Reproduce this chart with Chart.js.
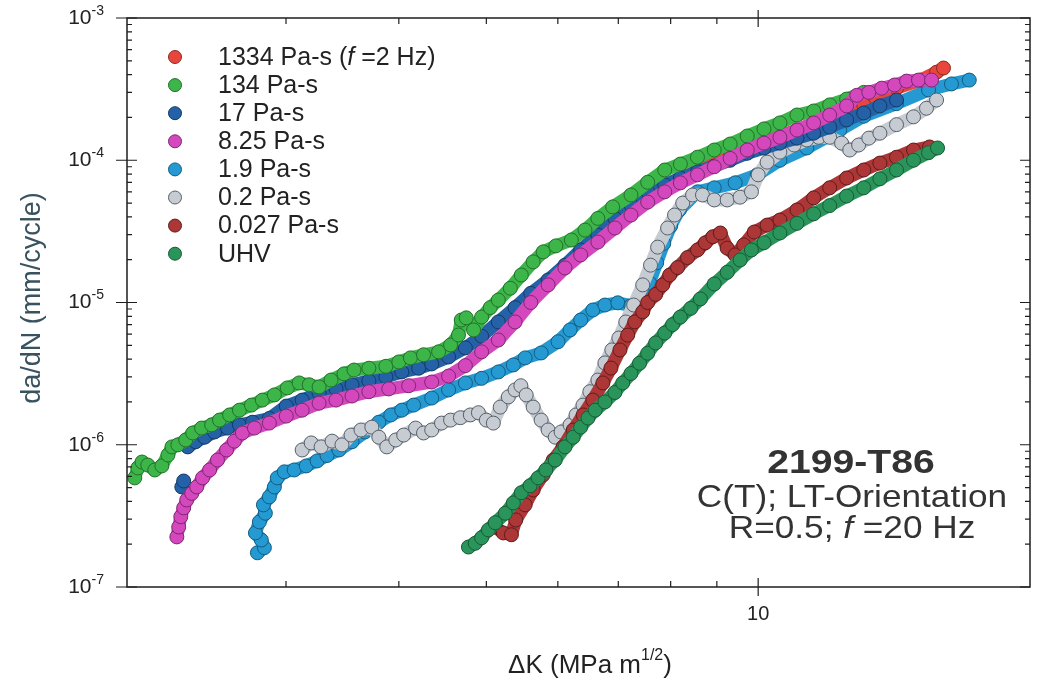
<!DOCTYPE html>
<html>
<head>
<meta charset="utf-8">
<script src="https://cdn.jsdelivr.net/npm/chart.js@4.4.1/dist/chart.umd.min.js"></script>
<style>
  body { margin: 0; background: #fff; }
  #chart { display: block; }
</style>
</head>
<body>
<canvas id="chart" width="1038" height="687"></canvas>
<script>
// ---- data (ΔK in MPa m^1/2, da/dN in mm/cycle) ----
const labels = ['1334 Pa-s (f =2 Hz)', '134 Pa-s', '17 Pa-s', '8.25 Pa-s', '1.9 Pa-s', '0.2 Pa-s', '0.027 Pa-s', 'UHV'];

const k1334 = [5.6, 5.853, 6.11, 6.645, 7.23, 7.88, 8.566, 9.31, 10.15, 11.04, 12.0, 13.09, 14.23, 15.13, 15.76, 16.04];
const r1334 = [1.04e-5, 1.37e-5, 1.77e-5, 2.84e-5, 4.47e-5, 6.4e-5, 8.54e-5, 1.08e-4, 1.37e-4, 1.63e-4, 1.95e-4, 2.45e-4, 3.21e-4, 3.66e-4, 4.16e-4, 4.45e-4];

const k134 = [2.04, 2.056, 2.078, 2.109, 2.147, 2.186, 2.22, 2.243, 2.277, 2.323, 2.365, 2.419, 2.482, 2.532, 2.598, 2.664,
  2.747, 2.824, 2.912, 3.01, 3.102, 3.183, 3.264, 3.365, 3.478, 3.568, 3.706, 3.87, 4.0, 4.12, 4.26, 4.427, 4.564, 4.657,
  4.69, 4.75, 4.84, 4.94, 5.05, 5.155, 5.315, 5.466, 5.634, 5.78, 5.97, 6.21, 6.43, 6.645, 6.9, 7.23, 7.545, 7.88, 8.2,
  8.566, 8.94, 9.31, 9.725, 10.15, 10.57, 11.04, 11.52, 12.0, 12.53, 13.09];
const r134 = [5.85e-7, 6.87e-7, 7.56e-7, 7.2e-7, 6.65e-7, 7.1e-7, 8.47e-7, 9.66e-7, 9.98e-7, 1.08e-6, 1.21e-6, 1.31e-6, 1.38e-6, 1.49e-6, 1.62e-6, 1.75e-6,
  1.9e-6, 2.06e-6, 2.24e-6, 2.51e-6, 2.72e-6, 2.64e-6, 2.55e-6, 2.85e-6, 3.15e-6, 3.35e-6, 3.45e-6, 3.56e-6, 3.82e-6, 4.08e-6, 4.29e-6, 4.5e-6, 5.03e-6, 5.91e-6,
  7.53e-6, 7.8e-6, 6.41e-6, 7.9e-6, 9.2e-6, 1.04e-5, 1.26e-5, 1.56e-5, 1.93e-5, 2.27e-5, 2.5e-5, 2.75e-5, 3.23e-5, 3.9e-5, 4.7e-5, 5.7e-5, 7.0e-5, 8.54e-5, 9.4e-5,
  1.05e-4, 1.18e-4, 1.3e-4, 1.48e-4, 1.66e-4, 1.83e-4, 2.08e-4, 2.22e-4, 2.45e-4, 2.69e-4, 3.0e-4];

const k17 = [2.3, 2.311, 2.335, 2.383, 2.438, 2.5, 2.585, 2.664, 2.754, 2.875, 3.002, 3.126, 3.264, 3.408, 3.55, 3.706,
  3.87, 4.03, 4.207, 4.35, 4.541, 4.74, 4.94, 5.155, 5.38, 5.6, 5.853, 6.11, 6.36, 6.645, 6.94, 7.23, 7.545, 7.88,
  8.2, 8.566, 8.94, 9.31, 9.725, 10.15, 10.57, 11.04, 11.52, 12.0, 12.53, 13.09, 13.64, 14.23];
const r17 = [5.05e-7, 5.56e-7, 9.66e-7, 1.05e-6, 1.13e-6, 1.23e-6, 1.31e-6, 1.38e-6, 1.44e-6, 1.53e-6, 1.87e-6, 2.06e-6, 2.31e-6, 2.47e-6, 2.64e-6, 2.81e-6,
  3.0e-6, 3.25e-6, 3.45e-6, 3.7e-6, 4.14e-6, 4.8e-6, 5.8e-6, 7.3e-6, 9.2e-6, 1.16e-5, 1.44e-5, 1.83e-5, 2.34e-5, 2.98e-5, 3.9e-5, 4.85e-5, 6.0e-5, 6.7e-5,
  7.5e-5, 8.3e-5, 9.1e-5, 1.0e-4, 1.12e-4, 1.22e-4, 1.32e-4, 1.43e-4, 1.55e-4, 1.71e-4, 1.92e-4, 2.15e-4, 2.41e-4, 2.65e-4];

const k825 = [2.271, 2.282, 2.294, 2.311, 2.329, 2.359, 2.389, 2.425, 2.469, 2.519, 2.578, 2.63, 2.684, 2.768, 2.875, 3.002,
  3.126, 3.264, 3.408, 3.55, 3.706, 3.899, 4.102, 4.35, 4.541, 4.74, 4.94, 5.155, 5.38, 5.6, 5.853, 6.11, 6.36, 6.645,
  6.94, 7.23, 7.545, 7.88, 8.2, 8.566, 8.94, 9.31, 9.725, 10.15, 10.57, 11.04, 11.52, 12.0, 12.53, 12.86, 13.26, 13.7,
  14.16, 14.6, 15.05, 15.56];
const r825 = [2.25e-7, 2.64e-7, 3.12e-7, 3.6e-7, 4.09e-7, 4.55e-7, 5.05e-7, 5.85e-7, 6.65e-7, 7.81e-7, 9.19e-7, 1.06e-6, 1.21e-6, 1.31e-6, 1.42e-6, 1.59e-6,
  1.75e-6, 1.96e-6, 2.06e-6, 2.2e-6, 2.36e-6, 2.47e-6, 2.6e-6, 2.76e-6, 3.04e-6, 3.6e-6, 4.5e-6, 5.45e-6, 7.3e-6, 1.0e-5, 1.33e-5, 1.75e-5, 2.16e-5, 2.66e-5,
  3.34e-5, 4.12e-5, 5.08e-5, 6.0e-5, 6.94e-5, 7.9e-5, 9.0e-5, 1.03e-4, 1.18e-4, 1.32e-4, 1.45e-4, 1.63e-4, 1.83e-4, 2.08e-4, 2.41e-4, 2.86e-4, 3.0e-4, 3.21e-4,
  3.38e-4, 3.6e-4, 3.66e-4, 3.66e-4];

const k19 = [2.789, 2.839, 2.817, 2.775, 2.803, 2.846, 2.832, 2.875, 2.912, 2.934, 2.987, 3.063, 3.159, 3.248, 3.331, 3.434,
  3.55, 3.668, 3.801, 3.919, 4.03, 4.154, 4.35, 4.541, 4.74, 4.94, 5.155, 5.356, 5.52, 5.75, 6.003, 6.19, 6.36, 6.56,
  6.765, 6.991, 7.23, 7.45, 7.58, 7.72, 7.86, 8.0, 8.18, 8.566, 8.94, 9.43, 9.975, 10.57, 11.32, 12.31, 13.09, 14.23,
  15.44, 16.37, 17.13];
const r19 = [1.74e-7, 1.89e-7, 2.14e-7, 2.4e-7, 2.87e-7, 3.3e-7, 3.78e-7, 4.3e-7, 5.05e-7, 5.85e-7, 6.45e-7, 6.65e-7, 7.1e-7, 7.7e-7, 8.4e-7, 9.19e-7,
  1.05e-6, 1.23e-6, 1.44e-6, 1.62e-6, 1.75e-6, 1.9e-6, 2.13e-6, 2.43e-6, 2.72e-6, 2.93e-6, 3.25e-6, 3.64e-6, 4.08e-6, 4.42e-6, 5.3e-6, 6.41e-6, 7.53e-6, 8.86e-6,
  9.6e-6, 9.95e-6, 9.5e-6, 1.04e-5, 1.37e-5, 1.9e-5, 2.6e-5, 3.45e-5, 4.47e-5, 6.0e-5, 6.4e-5, 6.94e-5, 7.9e-5, 1.0e-4, 1.22e-4, 1.63e-4, 2.04e-4, 2.5e-4,
  3.12e-4, 3.44e-4, 3.66e-4];

const k02 = [3.126, 3.199, 3.281, 3.374, 3.46, 3.541, 3.632, 3.734, 3.801, 3.879, 3.969, 4.05, 4.175, 4.26, 4.35, 4.46,
  4.564, 4.68, 4.8, 4.9, 5.0, 5.09, 5.18, 5.288, 5.38, 5.46, 5.535, 5.634, 5.75, 5.853, 5.96, 6.05, 6.19, 6.285,
  6.397, 6.51, 6.645, 6.765, 6.886, 7.01, 7.135, 7.28, 7.45, 7.6, 7.739, 7.938, 8.08, 8.25, 8.46, 8.676, 8.94, 9.24,
  9.55, 9.83, 10.0, 10.23, 10.57, 10.96, 11.32, 11.67, 12.0, 12.37, 12.63, 12.92, 13.26, 13.64, 14.23, 14.86, 15.36, 15.76];
const r02 = [9.19e-7, 1.03e-6, 9.66e-7, 1.06e-6, 9.98e-7, 1.17e-6, 1.27e-6, 1.33e-6, 1.13e-6, 9.66e-7, 1.08e-6, 1.17e-6, 1.31e-6, 1.21e-6, 1.27e-6, 1.42e-6,
  1.49e-6, 1.55e-6, 1.62e-6, 1.68e-6, 1.49e-6, 1.42e-6, 1.84e-6, 2.17e-6, 2.43e-6, 2.6e-6, 2.24e-6, 1.84e-6, 1.49e-6, 1.27e-6, 1.13e-6, 1.23e-6, 1.38e-6, 1.62e-6,
  1.9e-6, 2.36e-6, 2.85e-6, 3.76e-6, 4.64e-6, 5.63e-6, 7.3e-6, 9.6e-6, 1.33e-5, 1.83e-5, 2.45e-5, 3.34e-5, 4.12e-5, 5.0e-5, 5.7e-5, 5.7e-5, 5.26e-5, 5.26e-5,
  5.5e-5, 6.0e-5, 7.9e-5, 9.7e-5, 1.14e-4, 1.28e-4, 1.39e-4, 1.45e-4, 1.45e-4, 1.32e-4, 1.18e-4, 1.28e-4, 1.43e-4, 1.55e-4, 1.78e-4, 2.02e-4, 2.32e-4, 2.65e-4];

const k0027 = [5.115, 5.22, 5.33, 5.39, 5.52, 5.634, 5.78, 5.93, 6.08, 6.24, 6.4, 6.56, 6.73, 6.87, 7.03, 7.17,
  7.3, 7.45, 7.545, 7.7, 7.84, 7.98, 8.142, 8.351, 8.566, 8.74, 8.91, 9.08, 9.24, 9.43, 9.64, 9.9, 10.23, 10.57,
  11.04, 11.52, 12.0, 12.53, 13.09, 13.64, 14.23, 14.86, 15.48];
const r0027 = [2.64e-7, 2.4e-7, 2.33e-7, 2.96e-7, 3.78e-7, 4.81e-7, 6.15e-7, 7.81e-7, 9.66e-7, 1.27e-6, 1.62e-6, 2.06e-6, 2.72e-6, 3.46e-6, 4.64e-6, 5.9e-6,
  7.3e-6, 8.6e-6, 1.0e-5, 1.14e-5, 1.33e-5, 1.56e-5, 1.76e-5, 2.07e-5, 2.34e-5, 2.63e-5, 2.9e-5, 3.08e-5, 2.41e-5, 2.16e-5, 2.54e-5, 3.13e-5, 3.5e-5, 3.8e-5,
  4.47e-5, 5.44e-5, 6.4e-5, 7.5e-5, 8.54e-5, 9.55e-5, 1.05e-4, 1.18e-4, 1.24e-4];

const kUHV = [4.777, 4.86, 4.94, 5.026, 5.115, 5.248, 5.356, 5.466, 5.59, 5.706, 5.82, 5.96, 6.11, 6.24, 6.36, 6.479,
  6.6, 6.765, 6.94, 7.08, 7.23, 7.39, 7.545, 7.7, 7.88, 8.04, 8.2, 8.42, 8.63, 8.94, 9.24, 9.55, 9.83, 10.15,
  10.57, 11.04, 11.52, 12.0, 12.53, 13.09, 13.64, 14.23, 14.86, 15.44, 15.8];
const rUHV = [1.91e-7, 2.03e-7, 2.22e-7, 2.52e-7, 2.83e-7, 3.3e-7, 3.9e-7, 4.6e-7, 5.15e-7, 5.85e-7, 6.65e-7, 7.81e-7, 9.66e-7, 1.13e-6, 1.33e-6, 1.54e-6,
  1.75e-6, 2.0e-6, 2.33e-6, 2.72e-6, 3.17e-6, 3.74e-6, 4.4e-6, 5.2e-6, 6.1e-6, 7.0e-6, 7.9e-6, 9.1e-6, 1.06e-5, 1.35e-5, 1.63e-5, 1.99e-5, 2.34e-5, 2.63e-5,
  3.08e-5, 3.6e-5, 4.2e-5, 4.8e-5, 5.6e-5, 6.4e-5, 7.4e-5, 8.54e-5, 1.0e-4, 1.13e-4, 1.22e-4];

// axis ticks
const xMinorTicks = [3, 4, 5, 6, 7, 8, 9];
const xMajorTicks = [10];
const xTickLabels = ['10'];
const yMajorTicks = [1e-7, 1e-6, 1e-5, 1e-4, 1e-3];
const yTickExponents = ['-7', '-6', '-5', '-4', '-3'];

const FONT = '"Liberation Sans", Arial, Helvetica, sans-serif';
const fills = ['#e8463c', '#3cb549', '#2461a6', '#d447bd', '#2499d2', '#c7ccd3', '#ad3636', '#2a955a'];
const edges = ['#8a2a25', '#24702c', '#153a66', '#7c2a70', '#165d80', '#56606b', '#5e1d1d', '#195a36'];
const drawOrder = [3, 1, 2, 0, 7, 6, 5, 4];  // 0 = drawn on top

const xs = [k1334, k134, k17, k825, k19, k02, k0027, kUHV];
const ys = [r1334, r134, r17, r825, r19, r02, r0027, rUHV];

// no joining stroke across a near-vertical jump between two readings
const gapAware = (color) => (seg) => {
  const dx = Math.abs(seg.p1.x - seg.p0.x), dy = Math.abs(seg.p1.y - seg.p0.y);
  return (dy > 25 && dx < 10) ? 'rgba(0,0,0,0)' : color;
};

const datasets = labels.map((label, i) => ({
  label,
  data: xs[i].map((k, j) => ({ x: k, y: ys[i][j] })),
  showLine: true,
  borderColor: fills[i],
  borderWidth: 13,
  borderCapStyle: 'round',
  borderJoinStyle: 'round',
  segment: { borderColor: gapAware(fills[i]) },
  backgroundColor: fills[i],
  pointBackgroundColor: fills[i],
  pointBorderColor: edges[i],
  pointBorderWidth: 1,
  pointRadius: 7,
  order: drawOrder[i]
}));

// draws text with an italic "f" where the label has "f =", sx stretches it sideways
const drawRich = (ctx, text, x, y, size, align, weight, sx) => {
  sx = sx || 1;
  const parts = text.split(/(\bf(?= =))/).filter(p => p.length);
  const fontFor = (p) => `${p === 'f' ? 'italic ' : ''}${weight || ''} ${size}px ${FONT}`;
  let total = 0;
  parts.forEach(p => { ctx.font = fontFor(p); total += ctx.measureText(p).width; });
  ctx.save();
  ctx.translate(x, y);
  ctx.scale(sx, 1);
  let cx = align === 'center' ? -total / 2 : 0;
  ctx.textAlign = 'left';
  parts.forEach(p => {
    ctx.font = fontFor(p);
    ctx.fillText(p, cx, 0);
    cx += ctx.measureText(p).width;
  });
  ctx.restore();
};

const paperAxes = {
  id: 'paperAxes',
  beforeDraw(chart) {
    const ctx = chart.ctx;
    ctx.save();
    ctx.fillStyle = '#fff';
    ctx.fillRect(0, 0, chart.width, chart.height);
    ctx.restore();
  },
  afterDraw(chart) {
    const { ctx, chartArea: a, scales: { x, y } } = chart;
    ctx.save();
    ctx.strokeStyle = '#1e1e1e';
    ctx.lineWidth = 1.5;
    ctx.strokeRect(a.left, a.top, a.right - a.left, a.bottom - a.top);

    ctx.lineWidth = 1.2;
    ctx.beginPath();
    // y ticks: decades cross the axis, minors point inward
    yMajorTicks.forEach((v, i) => {
      const py = y.getPixelForValue(v);
      ctx.moveTo(a.left - 11, py); ctx.lineTo(a.left + 10, py);
      ctx.moveTo(a.right - 10, py); ctx.lineTo(a.right, py);
      if (i < yMajorTicks.length - 1) {
        for (let m = 2; m <= 9; m++) {
          const pm = y.getPixelForValue(v * m);
          ctx.moveTo(a.left, pm); ctx.lineTo(a.left + 5, pm);
          ctx.moveTo(a.right - 5, pm); ctx.lineTo(a.right, pm);
        }
      }
    });
    xMinorTicks.forEach(v => {
      const px = x.getPixelForValue(v);
      ctx.moveTo(px, a.bottom); ctx.lineTo(px, a.bottom - 6);
      ctx.moveTo(px, a.top); ctx.lineTo(px, a.top + 6);
    });
    xMajorTicks.forEach(v => {
      const px = x.getPixelForValue(v);
      ctx.moveTo(px, a.bottom + 9); ctx.lineTo(px, a.bottom - 9);
      ctx.moveTo(px, a.top - 8); ctx.lineTo(px, a.top + 9);
    });
    ctx.stroke();

    // tick labels
    ctx.fillStyle = '#222';
    ctx.textBaseline = 'middle';
    yMajorTicks.forEach((v, i) => {
      const py = y.getPixelForValue(v);
      ctx.font = `14px ${FONT}`;
      const ew = ctx.measureText(yTickExponents[i]).width;
      ctx.textAlign = 'right';
      ctx.fillText(yTickExponents[i], 104, py - 7);
      ctx.font = `21px ${FONT}`;
      ctx.fillText('10', 104 - ew, py);
    });
    ctx.textAlign = 'center';
    ctx.font = `20px ${FONT}`;
    xMajorTicks.forEach((v, i) => {
      ctx.fillText(xTickLabels[i], x.getPixelForValue(v), 614);
    });

    // axis titles
    ctx.font = `26px ${FONT}`;
    ctx.textAlign = 'left';
    const t1 = '\u0394K (MPa m', sup = '1/2', t2 = ')';
    const w1 = ctx.measureText(t1).width, w3 = ctx.measureText(t2).width;
    ctx.font = `16px ${FONT}`;
    const w2 = ctx.measureText(sup).width;
    const tx = 590 - (w1 + w2 + w3) / 2;
    ctx.font = `26px ${FONT}`;
    ctx.fillText(t1, tx, 666);
    ctx.font = `16px ${FONT}`;
    ctx.fillText(sup, tx + w1, 656);
    ctx.font = `26px ${FONT}`;
    ctx.fillText(t2, tx + w1 + w2, 666);

    ctx.save();
    ctx.translate(33, 298);
    ctx.rotate(-Math.PI / 2);
    ctx.fillStyle = '#38525f';
    ctx.textAlign = 'center';
    ctx.font = `27px ${FONT}`;
    ctx.fillText('da/dN (mm/cycle)', 0, 0);
    ctx.restore();

    // legend
    labels.forEach((label, i) => {
      const ly = 57 + i * 28.1;
      ctx.beginPath();
      ctx.arc(175, ly, 6.5, 0, Math.PI * 2);
      ctx.fillStyle = fills[i];
      ctx.fill();
      ctx.lineWidth = 1;
      ctx.strokeStyle = edges[i];
      ctx.stroke();
      ctx.fillStyle = '#222';
      drawRich(ctx, label, 218, ly + 1, 25, 'left');
    });

    // specimen note
    ctx.fillStyle = '#333';
    drawRich(ctx, '2199-T86', 851, 464, 34, 'center', 'bold', 1.15);
    drawRich(ctx, 'C(T); LT-Orientation', 852, 498, 32, 'center', '', 1.1);
    drawRich(ctx, 'R=0.5; f =20 Hz', 852, 529, 32, 'center', '', 1.1);
    ctx.restore();
  }
};

new Chart(document.getElementById('chart'), {
  type: 'scatter',
  data: { datasets },
  options: {
    responsive: false,
    animation: false,
    devicePixelRatio: 1,
    layout: { padding: { left: 127, right: 4, top: 18, bottom: 100 } },
    scales: {
      x: { type: 'logarithmic', min: 2, max: 20, display: false },
      y: { type: 'logarithmic', min: 1e-7, max: 1e-3, display: false }
    },
    plugins: { legend: { display: false }, tooltip: { enabled: false } }
  },
  plugins: [paperAxes]
});
</script>
</body>
</html>
